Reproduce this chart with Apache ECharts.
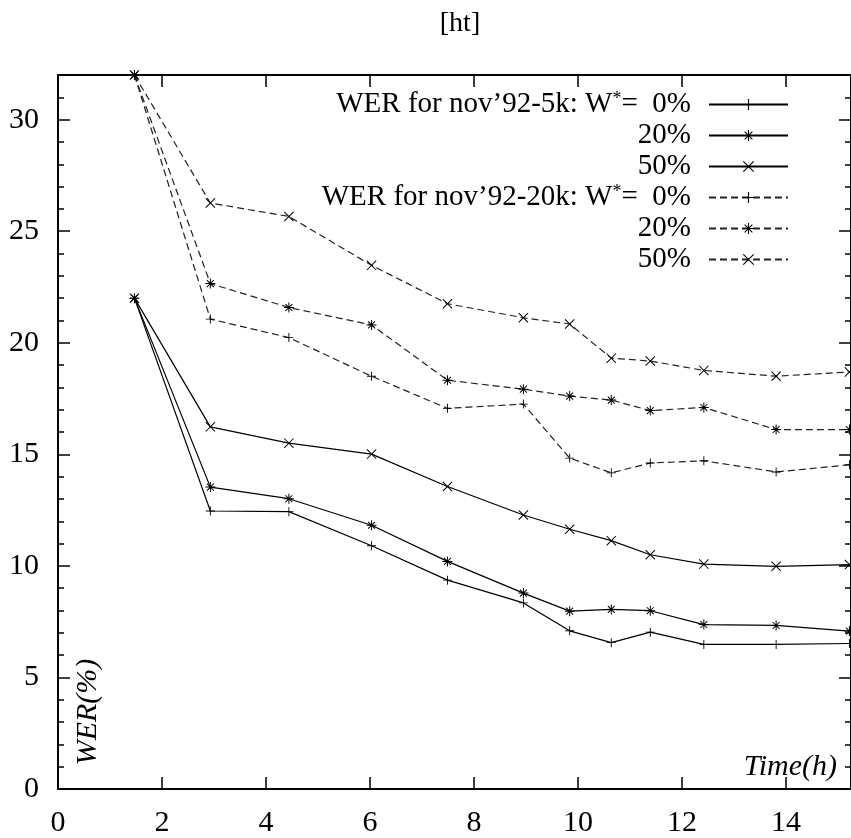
<!DOCTYPE html>
<html>
<head>
<meta charset="utf-8">
<script src="https://cdn.jsdelivr.net/npm/echarts@6/dist/echarts.min.js"></script>
<style>
  html, body { margin: 0; padding: 0; background: #fff; }
  #main { width: 851px; height: 838px; }
</style>
</head>
<body>
<div id="main"></div>
<script>
// training time (hours) at each checkpoint
var hours = [1.47, 2.93, 4.44, 6.03, 7.49, 8.95, 9.84, 10.64, 11.39, 12.42, 13.81, 15.22];

// WER (%) on nov'92 5k
var wer5k_0  = [22.0, 12.46, 12.43, 10.9, 9.36, 8.34, 7.09, 6.56, 7.03, 6.48, 6.48, 6.52];
var wer5k_20 = [22.0, 13.53, 13.01, 11.82, 10.2, 8.78, 7.97, 8.05, 7.99, 7.37, 7.33, 7.08];
var wer5k_50 = [22.0, 16.23, 15.5, 15.01, 13.56, 12.28, 11.64, 11.13, 10.5, 10.08, 9.98, 10.06];

// WER (%) on nov'92 20k
var wer20k_0  = [32.0, 21.06, 20.23, 18.5, 17.06, 17.25, 14.83, 14.17, 14.61, 14.71, 14.21, 14.53];
var wer20k_20 = [32.0, 22.65, 21.58, 20.8, 18.32, 17.92, 17.61, 17.43, 16.96, 17.1, 16.11, 16.11];
var wer20k_50 = [32.0, 26.26, 25.66, 23.47, 21.75, 21.12, 20.84, 19.31, 19.18, 18.76, 18.5, 18.69];

var font = '"Liberation Serif", "Times New Roman", serif';

// gnuplot style point markers
var PLUS = 'path://M-1,-10 L1,-10 L1,10 L-1,10 Z M-10,-1 L10,-1 L10,1 L-10,1 Z';
var CROSS = 'path://M-10,-8.6 L-8.6,-10 L10,8.6 L8.6,10 Z M8.6,-10 L10,-8.6 L-8.6,10 L-10,8.6 Z';
var STAR = 'path://M-1,-10 L1,-10 L1,10 L-1,10 Z M-10,-1 L10,-1 L10,1 L-10,1 Z ' +
           'M-7.6,-6.2 L-6.2,-7.6 L7.6,6.2 L6.2,7.6 Z M6.2,-7.6 L7.6,-6.2 L-6.2,7.6 L-7.6,6.2 Z';

var legendText = {
  '5k-0': '{n|WER for nov\u201992-5k: W}{s|*}{n|=  0%}',
  '5k-20': '{n|20%}',
  '5k-50': '{n|50%}',
  '20k-0': '{n|WER for nov\u201992-20k: W}{s|*}{n|=  0%}',
  '20k-20': '{n|20%}',
  '20k-50': '{n|50%}'
};

function pairs(ys) {
  return hours.map(function (h, i) { return [h, ys[i]]; });
}

function makeSeries(name, ys, symbol, size, dashed) {
  return {
    name: name,
    type: 'line',
    xAxisIndex: 0,
    yAxisIndex: 0,
    data: pairs(ys),
    symbol: symbol,
    symbolSize: size,
    showAllSymbol: true,
    animation: false,
    itemStyle: { color: '#000' },
    lineStyle: { color: dashed ? '#222' : '#000', width: 1.2, type: dashed ? [7, 4] : 'solid' }
  };
}

function frameAxis(pos, max, interval, labels, minor) {
  var ax = {
    type: 'value', position: pos, min: 0, max: max, interval: interval,
    axisLine: { show: true, onZero: false, lineStyle: { color: '#000', width: 2 } },
    axisTick: { show: true, inside: true, length: 12, lineStyle: { color: '#000', width: 1.5 } },
    minorTick: { show: minor, splitNumber: 5, length: 6, lineStyle: { color: '#000', width: 1.5 } },
    axisLabel: labels ? { showMaxLabel: false, margin: 19, color: '#000', fontFamily: font, fontSize: 30 } : { show: false },
    splitLine: { show: false }
  };
  return ax;
}

var myChart = echarts.init(document.getElementById('main'));

var option = {
  backgroundColor: '#fff',
  animation: false,
  grid: { left: 58, right: -2, top: 75, bottom: 45 },
  legend: {
    orient: 'vertical',
    align: 'right',
    right: 57,
    top: 85,
    itemWidth: 79,
    itemHeight: 14,
    itemGap: 2,
    textStyle: {
      fontFamily: font, fontSize: 29, color: '#000', lineHeight: 28,
      padding: [0, 13, 0, 0],
      rich: {
        n: { fontFamily: font, fontSize: 29, lineHeight: 28, color: '#000' },
        s: { fontFamily: font, fontSize: 18, lineHeight: 28, verticalAlign: 'top', color: '#000' }
      }
    },
    formatter: function (name) { return legendText[name]; },
    data: ['5k-0', '5k-20', '5k-50', '20k-0', '20k-20', '20k-50']
  },
  xAxis: [
    frameAxis('bottom', 15.25, 2, true, false),
    frameAxis('top', 15.25, 2, false, false)
  ],
  yAxis: [
    frameAxis('left', 32, 5, true, true),
    frameAxis('right', 32, 5, false, true)
  ],
  graphic: [{
    type: 'text', x: 460, y: 24,
    style: { text: '[ht]', font: '28px ' + font, fill: '#000', align: 'center', verticalAlign: 'middle' }
  }, {
    type: 'text', x: 88, y: 712, rotation: Math.PI / 2,
    style: { text: 'WER(%)', font: 'italic 30px ' + font, fill: '#000', align: 'center', verticalAlign: 'middle' }
  }, {
    type: 'text', x: 837, y: 767,
    style: { text: 'Time(h)', font: 'italic 30px ' + font, fill: '#000', align: 'right', verticalAlign: 'middle' }
  }],
  series: [
    makeSeries('5k-0', wer5k_0, PLUS, 9, false),
    makeSeries('5k-20', wer5k_20, STAR, 10, false),
    makeSeries('5k-50', wer5k_50, CROSS, 10, false),
    makeSeries('20k-0', wer20k_0, PLUS, 9, true),
    makeSeries('20k-20', wer20k_20, STAR, 10, true),
    makeSeries('20k-50', wer20k_50, CROSS, 10, true)
  ]
};

myChart.setOption(option);
</script>
</body>
</html>
